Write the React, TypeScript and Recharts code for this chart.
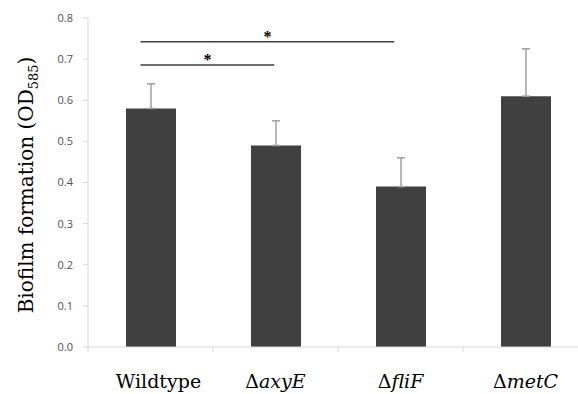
import { Bar, BarChart, ErrorBar, Label, ReferenceLine, XAxis, YAxis } from 'recharts';

const strains = ['Wildtype', 'axyE', 'fliF', 'metC'];
const biofilm = [0.58, 0.49, 0.39, 0.61];
const sdUp = [0.06, 0.06, 0.07, 0.115];
const yTicks = [0, 0.1, 0.2, 0.3, 0.4, 0.5, 0.6, 0.7, 0.8];

// significance brackets, x in category units (0 = left edge of first band)
const brackets = [
  { from: 0.42, to: 1.49, y: 0.686, mark: '*' },
  { from: 0.42, to: 2.45, y: 0.742, mark: '*' },
];

const data = strains.map((strain, i) => ({ strain, pos: i + 0.5, od: biofilm[i], err: [0, sdUp[i]] }));

const serif = '"DejaVu Serif", "Liberation Serif", serif';
const BAND = 125;

function StrainTick({ x, y, payload }: any) {
  const wild = payload.value === 'Wildtype';
  return (
    <g>
      <line x1={x - BAND / 2} x2={x - BAND / 2} y1={y - 8} y2={y - 3} stroke="#d9d9d9" />
      <text x={wild ? x + 8 : x} y={y + 33} textAnchor="middle" fontFamily={serif} fontSize={19} fill="#000">
        {wild ? (
          'Wildtype'
        ) : (
          <>
            Δ<tspan fontStyle="italic">{payload.value}</tspan>
          </>
        )}
      </text>
    </g>
  );
}

function YTitle() {
  return (
    <text transform="translate(33,185) rotate(-90)" textAnchor="middle" fontFamily={serif} fontSize={20} fill="#000">
      Biofilm formation (OD<tspan fontSize={13} dy={5}>585</tspan>
      <tspan dy={-5}>)</tspan>
    </text>
  );
}

export default function App() {
  return (
    <div style={{ position: 'absolute', left: 0, top: 0, width: 578, height: 394, overflow: 'hidden', background: '#fff' }}>
      <BarChart width={600} height={394} data={data} margin={{ top: 18, right: 12, bottom: 7, left: 0 }} barSize={50}>
        <XAxis dataKey="strain" height={40} axisLine={{ stroke: '#d9d9d9' }} tickLine={false} tick={<StrainTick />} interval={0} />
        <XAxis xAxisId="n" dataKey="pos" type="number" domain={[0, 4]} allowDataOverflow hide />
        <YAxis
          width={88}
          domain={[0, 0.8]}
          ticks={yTicks}
          tickFormatter={(v: number) => v.toFixed(1)}
          axisLine={{ stroke: '#d9d9d9' }}
          tickLine={{ stroke: '#d9d9d9' }}
          tickSize={5}
          tickMargin={10}
          tick={{ fill: '#505050', fontSize: 11, fontFamily: '"Open Sans", sans-serif' }}
        >
          <Label content={<YTitle />} />
        </YAxis>
        <Bar dataKey="od" fill="#404040" isAnimationActive={false}>
          <ErrorBar dataKey="err" direction="y" width={4} stroke="#a0a0a0" strokeWidth={1.5} />
        </Bar>
        {brackets.map((b, i) => (
          <ReferenceLine
            key={i}
            xAxisId="n"
            segment={[{ x: b.from, y: b.y }, { x: b.to, y: b.y }]}
            stroke="#404040"
            strokeWidth={1.5}
            label={{ value: b.mark, position: 'top', offset: 0, fill: '#000', fontSize: 16, fontWeight: 'bold' }}
          />
        ))}
      </BarChart>
    </div>
  );
}
